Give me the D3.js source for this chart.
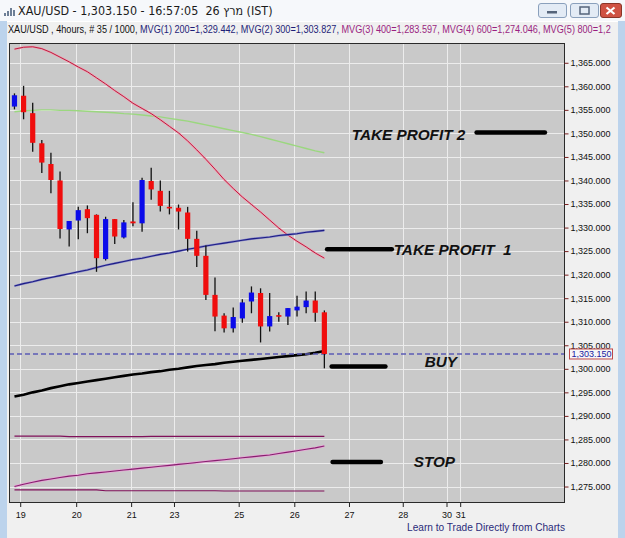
<!DOCTYPE html>
<html>
<head>
<meta charset="utf-8">
<script src="https://cdn.jsdelivr.net/npm/d3@7"></script>
<style>
  body { margin: 0; background: #f0f0f0; overflow: hidden; }
</style>
</head>
<body>
<div id="chart"></div>
<script>
// 4 hour candles, XAU/USD
const opens = [1355.7, 1358.0, 1354.3, 1347.9, 1343.5, 1340.0, 1329.6, 1331.5, 1333.9, 1332.7,
  1323.3, 1331.8, 1327.9, 1331.3, 1330.9, 1339.9, 1337.8, 1334.4, 1334.2, 1333.2,
  1327.6, 1324.0, 1315.7, 1311.3, 1308.6, 1310.7, 1314.3, 1316.1, 1309.0, 1311.4,
  1311.1, 1312.4, 1313.1, 1314.5, 1312.0];
const highs = [1358.5, 1360.1, 1356.5, 1348.6, 1345.9, 1341.9, 1331.4, 1334.4, 1334.7, 1332.8,
  1332.3, 1331.8, 1331.6, 1335.4, 1340.6, 1342.7, 1340.0, 1337.8, 1334.9, 1334.4,
  1329.3, 1326.2, 1319.4, 1311.8, 1313.0, 1314.8, 1317.5, 1317.1, 1316.1, 1312.0,
  1312.9, 1315.5, 1316.4, 1316.4, 1312.4];
const lows = [1355.1, 1353.0, 1346.1, 1341.6, 1337.3, 1327.7, 1326.0, 1327.5, 1328.8, 1320.6,
  1323.0, 1326.5, 1327.7, 1330.3, 1329.1, 1335.9, 1333.4, 1332.8, 1329.6, 1324.9,
  1321.6, 1314.6, 1308.0, 1307.7, 1307.7, 1309.8, 1311.8, 1305.6, 1307.9, 1310.0,
  1309.3, 1311.1, 1311.8, 1310.0, 1300.1];
const closes = [1358.1, 1354.5, 1348.0, 1343.8, 1340.1, 1329.7, 1331.4, 1333.7, 1332.0, 1323.5,
  1331.8, 1328.1, 1331.1, 1330.9, 1340.1, 1338.1, 1334.6, 1334.2, 1333.4, 1327.6,
  1324.0, 1315.7, 1311.1, 1308.6, 1311.0, 1314.1, 1316.2, 1309.0, 1311.2, 1311.2,
  1312.9, 1313.2, 1314.5, 1311.9, 1303.15];

// moving averages, one value per candle
const mvgRed = [1367.9, 1368.3, 1368.4, 1368.0, 1367.2, 1366.2, 1365.2, 1364.1, 1363.1, 1361.8,
  1360.5, 1359.1, 1357.8, 1356.4, 1355.3, 1354.2, 1352.9, 1351.5, 1350.1, 1348.4,
  1346.5, 1344.5, 1342.4, 1340.2, 1338.3, 1336.5, 1334.9, 1333.3, 1331.6, 1329.9,
  1328.4, 1327.1, 1325.9, 1324.6, 1323.5];
const mvgGreen = [1354.6, 1354.8, 1354.9, 1355.0, 1355.0, 1354.9, 1354.9, 1354.8, 1354.7, 1354.6,
  1354.5, 1354.4, 1354.2, 1354.1, 1353.9, 1353.7, 1353.5, 1353.2, 1352.9, 1352.6,
  1352.2, 1351.8, 1351.4, 1351.0, 1350.6, 1350.2, 1349.8, 1349.3, 1348.8, 1348.3,
  1347.8, 1347.3, 1346.8, 1346.3, 1345.9];
const mvg200 = [1317.6, 1318.1, 1318.5, 1319.0, 1319.4, 1319.8, 1320.2, 1320.6, 1321.0, 1321.5,
  1322.0, 1322.4, 1322.8, 1323.2, 1323.5, 1323.9, 1324.3, 1324.6, 1325.0, 1325.4,
  1325.7, 1326.1, 1326.4, 1326.7, 1327.0, 1327.3, 1327.6, 1327.8, 1328.0, 1328.3,
  1328.5, 1328.7, 1329.0, 1329.2, 1329.4];
const mvg300 = [1294.1, 1294.5, 1295.0, 1295.4, 1295.9, 1296.3, 1296.7, 1297.0, 1297.3, 1297.6,
  1297.9, 1298.2, 1298.5, 1298.8, 1299.0, 1299.3, 1299.5, 1299.8, 1300.0, 1300.3,
  1300.6, 1300.8, 1301.0, 1301.3, 1301.5, 1301.7, 1301.9, 1302.1, 1302.3, 1302.5,
  1302.7, 1302.9, 1303.1, 1303.4, 1303.8];
const mvg400 = [1275.0, 1275.5, 1275.9, 1276.3, 1276.6, 1276.9, 1277.2, 1277.4, 1277.7, 1277.9,
  1278.1, 1278.3, 1278.5, 1278.7, 1278.9, 1279.1, 1279.3, 1279.5, 1279.7, 1279.9,
  1280.1, 1280.3, 1280.5, 1280.7, 1280.9, 1281.1, 1281.3, 1281.5, 1281.7, 1282.0,
  1282.3, 1282.6, 1282.9, 1283.2, 1283.6];
const mvg600 = [1274.3, 1274.3, 1274.3, 1274.3, 1274.3, 1274.3, 1274.3, 1274.3, 1274.3, 1274.3,
  1274.1, 1274.1, 1274.1, 1274.1, 1274.1, 1274.1, 1274.1, 1274.1, 1274.1, 1274.1,
  1274.1, 1274.1, 1274.1, 1274.05, 1274.05, 1274.05, 1274.05, 1274.05, 1274.05, 1274.05,
  1274.05, 1274.05, 1274.05, 1274.05, 1274.05];
const mvg800 = [1285.7, 1285.7, 1285.7, 1285.7, 1285.7, 1285.7, 1285.6, 1285.6, 1285.6, 1285.6,
  1285.6, 1285.6, 1285.6, 1285.6, 1285.6, 1285.65, 1285.65, 1285.65, 1285.65, 1285.65,
  1285.65, 1285.65, 1285.65, 1285.65, 1285.65, 1285.65, 1285.65, 1285.65, 1285.65, 1285.65,
  1285.65, 1285.65, 1285.65, 1285.65, 1285.65];

// date ticks (position in candle units) and price ticks
const xTickLabels = ["19", "20", "21", "23", "25", "26", "27", "28", "30", "31"];
const xTickIndex = [0.63, 6.77, 12.8, 17.5, 24.6, 30.7, 36.7, 42.6, 47.4, 48.9];
const yTickValues = [1275, 1280, 1285, 1290, 1295, 1300, 1305, 1310, 1315, 1320,
  1325, 1330, 1335, 1340, 1345, 1350, 1355, 1360, 1365];
const lastPrice = 1303.15;

// trade levels drawn by hand on the chart
const levelNames = ["TAKE PROFIT 2", "TAKE PROFIT  1", "BUY", "STOP"];
const levelPrices = [1350.2, 1325.4, 1300.5, 1280.2];

const titleText = "XAU/USD - 1,303.150 - 16:57:05  26 מרץ (IST)";
// header is cut by the window edge in the terminal, so only the visible part is kept
const headerParts = ["XAU/USD , 4hours, # 35 / 1000, ", "MVG(1) 200=1,329.442, ", "MVG(2) 300=1,303.827, ",
  "MVG(3) 400=1,283.597, ", "MVG(4) 600=1,274.046, ", "MVG(5) 800=1,2"];
const headerColors = ["#111", "#1e1e78", "#1e1e78", "#9a1f80", "#9a1f80", "#9a1f80"];

const width = 625;
const height = 538;
const plotLeft = 9, plotRight = 565, plotTop = 43, plotBottom = 503;

const svg = d3.select("#chart").append("svg")
  .attr("width", width)
  .attr("height", height)
  .style("display", "block");

// window background + frame
svg.append("rect").attr("width", width).attr("height", height).attr("fill", "#f0f0f0");
svg.append("rect").attr("x", 0).attr("y", 0).attr("width", 7).attr("height", height).attr("fill", "#bcd3ec");
svg.append("rect").attr("x", 618).attr("y", 0).attr("width", 7).attr("height", height).attr("fill", "#bcd3ec");
svg.append("rect").attr("x", 0).attr("y", 0).attr("width", width).attr("height", 21).attr("fill", "#f6f8fb");
svg.append("line").attr("x1", 7).attr("x2", 618).attr("y1", 21.5).attr("y2", 21.5).attr("stroke", "#fff");

// small chart icon in the title bar
const icon = svg.append("g").attr("transform", "translate(4,6)");
[[0, 7, 3], [3, 5, 5], [6, 2, 8], [9, 4, 6]].forEach(([bx, by, bh]) => {
  icon.append("rect").attr("x", bx).attr("y", by).attr("width", 2).attr("height", bh).attr("fill", "#6d7f96");
});

const fitText = (sel, x0, x1) => {
  const w = sel.node().getComputedTextLength();
  const y = +sel.attr("data-y");
  sel.attr("transform", `translate(${x0},${y}) scale(${(x1 - x0) / w},1)`);
};

const title = svg.append("text")
  .attr("data-y", 15)
  .attr("font-family", "'DejaVu Sans', sans-serif")
  .attr("font-size", 12)
  .attr("fill", "#1a1a1a")
  .style("white-space", "pre")
  .text(titleText);
fitText(title, 18, 273);

// window buttons
const btn = (x, w, fill, stroke) => svg.append("rect").attr("x", x).attr("y", 3.5).attr("width", w).attr("height", 14)
  .attr("rx", 2.5).attr("fill", fill).attr("stroke", stroke);
btn(538.5, 28, "#e3ebf5", "#8aa0bc");
svg.append("rect").attr("x", 547).attr("y", 11).attr("width", 10).attr("height", 2.5).attr("fill", "#55647a");
btn(570.5, 28, "#e3ebf5", "#8aa0bc");
svg.append("rect").attr("x", 580).attr("y", 7).attr("width", 9).attr("height", 7).attr("fill", "none").attr("stroke", "#55647a").attr("stroke-width", 1.5);
btn(600.5, 21, "#cf5243", "#8a3528");
svg.append("path").attr("d", "M606.5,7.5 L614.5,14 M614.5,7.5 L606.5,14").attr("stroke", "#fff").attr("stroke-width", 2.2);

// header line with the moving averages
const header = svg.append("text")
  .attr("font-family", "'Liberation Sans', Arial, sans-serif")
  .attr("font-size", 10.5)
  .style("white-space", "pre");
headerParts.forEach((t, i) => header.append("tspan").attr("fill", headerColors[i]).text(t));
// scale so the fifth average starts where it does in the terminal
const prefix = svg.append("text")
  .attr("font-family", "'Liberation Sans', Arial, sans-serif")
  .attr("font-size", 10.5)
  .style("white-space", "pre")
  .text(headerParts.slice(0, 5).join(""));
const prefixW = prefix.node().getComputedTextLength();
prefix.remove();
header.attr("transform", `translate(8,33) scale(${(544 - 8) / prefixW},1)`);

// scales
const x = d3.scaleLinear().domain([-0.6, 60.4]).range([plotLeft, plotRight]);
const y = d3.scaleLinear().domain([1271.5, 1369.2]).range([plotBottom, plotTop]);

svg.append("clipPath").attr("id", "plot-clip")
  .append("rect").attr("x", plotLeft).attr("y", plotTop)
  .attr("width", plotRight - plotLeft).attr("height", plotBottom - plotTop);

svg.append("rect")
  .attr("x", plotLeft).attr("y", plotTop)
  .attr("width", plotRight - plotLeft).attr("height", plotBottom - plotTop)
  .attr("fill", "#c9c9c9");

const plot = svg.append("g").attr("clip-path", "url(#plot-clip)");

// grid
plot.append("g").selectAll("line").data(yTickValues).join("line")
  .attr("x1", plotLeft).attr("x2", plotRight)
  .attr("y1", (d) => Math.round(y(d)) + 0.5).attr("y2", (d) => Math.round(y(d)) + 0.5)
  .attr("stroke", "#ececec");
plot.append("g").selectAll("line").data(xTickIndex).join("line")
  .attr("x1", (d) => Math.round(x(d)) + 0.5).attr("x2", (d) => Math.round(x(d)) + 0.5)
  .attr("y1", plotTop).attr("y2", plotBottom)
  .attr("stroke", "#ececec");

// moving averages
const idx = d3.range(opens.length);
const lineOf = (vals) => d3.line().x((d, i) => x(i)).y((d) => y(d))(vals);
const maStyles = [
  [mvgGreen, "#9bd77f", 1.4],
  [mvgRed, "#f0a0b4", 2.2], [mvgRed, "#b8203f", 1],
  [mvg200, "#8888c8", 2.2], [mvg200, "#1c1c84", 1.1],
  [mvg400, "#e6a6d6", 2.6], [mvg400, "#86206e", 1.1],
  [mvg600, "#80105a", 1.2],
  [mvg800, "#80105a", 1.2],
  [mvg300, "#000", 2.6],
];
maStyles.forEach(([vals, color, w]) => {
  plot.append("path").attr("d", lineOf(vals)).attr("fill", "none")
    .attr("stroke", color).attr("stroke-width", w).attr("stroke-linejoin", "round");
});

// last price dashed line
plot.append("line")
  .attr("x1", plotLeft).attr("x2", plotRight)
  .attr("y1", y(lastPrice)).attr("y2", y(lastPrice))
  .attr("stroke", "#5b5bb5").attr("stroke-width", 1.3)
  .attr("stroke-dasharray", "5,3");

// candles
const candles = plot.append("g").selectAll("g").data(idx).join("g");
candles.append("line")
  .attr("x1", (i) => x(i)).attr("x2", (i) => x(i))
  .attr("y1", (i) => y(highs[i])).attr("y2", (i) => y(lows[i]))
  .attr("stroke", "#111").attr("stroke-width", 1.3);
candles.append("rect")
  .attr("x", (i) => x(i) - 2.6)
  .attr("width", 5.2)
  .attr("y", (i) => y(Math.max(opens[i], closes[i])))
  .attr("height", (i) => Math.max(1.6, Math.abs(y(opens[i]) - y(closes[i]))))
  .attr("fill", (i) => (closes[i] >= opens[i] ? "#0b0bea" : "#f00d0d"));

// trade levels
const levelLayout = [
  { from: 50.7, to: 58.2, textAt: 37.0, dy: 7.5 },
  { from: 34.3, to: 41.4, textAt: 41.6, dy: 6 },
  { from: 34.8, to: 40.7, textAt: 45.0, dy: 0.5 },
  { from: 34.9, to: 40.2, textAt: 43.8, dy: 5 },
];
levelNames.forEach((name, i) => {
  const L = levelLayout[i];
  plot.append("line")
    .attr("x1", x(L.from)).attr("x2", x(L.to))
    .attr("y1", y(levelPrices[i])).attr("y2", y(levelPrices[i]))
    .attr("stroke", "#000").attr("stroke-width", 4.5).attr("stroke-linecap", "round");
  plot.append("text")
    .attr("x", x(L.textAt)).attr("y", y(levelPrices[i]) + L.dy)
    .attr("font-family", "'Liberation Sans', Arial, sans-serif")
    .attr("font-size", 15.3).attr("font-weight", "bold").attr("font-style", "italic")
    .attr("fill", "#111")
    .style("white-space", "pre")
    .text(name);
});

// plot border
svg.append("rect")
  .attr("x", plotLeft + 0.5).attr("y", plotTop + 0.5)
  .attr("width", plotRight - plotLeft - 1).attr("height", plotBottom - plotTop - 1)
  .attr("fill", "none").attr("stroke", "#2a2a2a");

// price axis
const yAxis = svg.append("g")
  .attr("transform", `translate(${plotRight - 0.5},0)`)
  .call(d3.axisRight(y).tickValues(yTickValues).tickSize(4).tickPadding(2).tickFormat(d3.format(",.3f")));
yAxis.select(".domain").remove();
yAxis.selectAll(".tick line").attr("stroke", "#7a2020");
yAxis.selectAll(".tick text")
  .attr("font-family", "'Liberation Sans', Arial, sans-serif")
  .attr("font-size", 9).attr("fill", "#111");

// current price tag
svg.append("rect")
  .attr("x", 569.5).attr("y", y(lastPrice) - 5)
  .attr("width", 43).attr("height", 10)
  .attr("fill", "#f7f7f7").attr("stroke", "#c04848");
svg.append("text")
  .attr("x", 571.5).attr("y", y(lastPrice) + 3.3)
  .attr("font-family", "'Liberation Sans', Arial, sans-serif")
  .attr("font-size", 9).attr("fill", "#2020a0")
  .text(d3.format(",.3f")(lastPrice));

// date axis
const xAxis = svg.append("g")
  .attr("transform", `translate(0,${plotBottom})`)
  .call(d3.axisBottom(x).tickValues(xTickIndex).tickSize(4).tickPadding(5)
    .tickFormat((d, i) => xTickLabels[i]));
xAxis.select(".domain").remove();
xAxis.selectAll(".tick line").attr("stroke", "#222");
xAxis.selectAll(".tick text")
  .attr("font-family", "'Liberation Sans', Arial, sans-serif")
  .attr("font-size", 9).attr("fill", "#111");

const credit = svg.append("text")
  .attr("data-y", 531)
  .attr("font-family", "'Liberation Sans', Arial, sans-serif")
  .attr("font-size", 11.5)
  .attr("fill", "#2a2a7a")
  .text("Learn to Trade Directly from Charts");
fitText(credit, 407, 565);
</script>
</body>
</html>
